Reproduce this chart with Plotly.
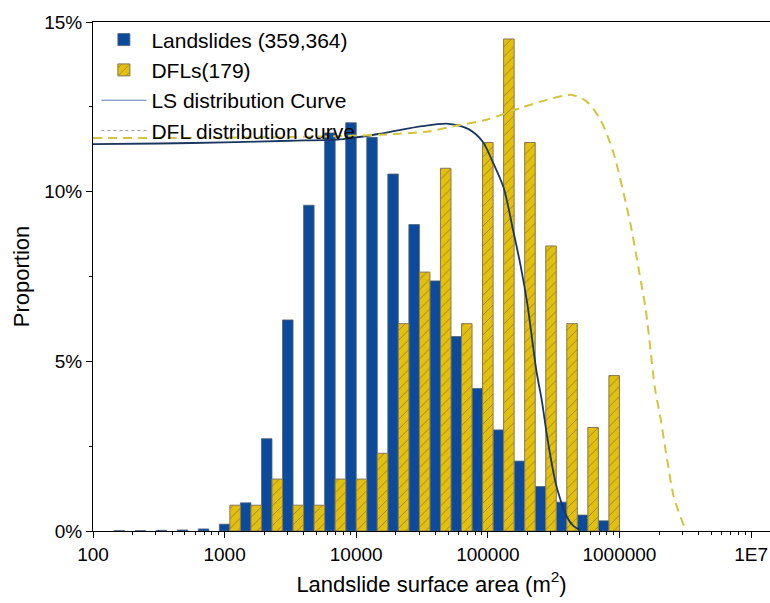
import numpy as np
import plotly.graph_objects as go

# ---- data (x in log10 of landslide surface area, m^2; y in %) ----
ls_bin_log_area = [2.20, 2.36, 2.52, 2.68, 2.84, 3.00, 3.16, 3.32, 3.48, 3.64, 3.80, 3.96,
                   4.12, 4.28, 4.44, 4.60, 4.76, 4.92, 5.08, 5.24, 5.40, 5.56, 5.72, 5.88]
ls_proportion = [0.01, 0.01, 0.02, 0.03, 0.06, 0.20, 0.83, 2.72, 6.22, 9.60, 11.73, 12.03,
                 11.60, 10.52, 9.03, 7.37, 5.73, 4.20, 2.98, 2.06, 1.31, 0.85, 0.47, 0.30]

dfl_bin_log_area = [3.08, 3.24, 3.40, 3.56, 3.72, 3.88, 4.04, 4.20, 4.36, 4.52, 4.68, 4.84,
                    5.00, 5.16, 5.32, 5.48, 5.64, 5.80, 5.96]
dfl_proportion = [0.76, 0.76, 1.53, 0.76, 0.76, 1.53, 1.53, 2.29, 6.11, 7.63, 10.69, 6.11,
                  11.45, 14.50, 11.45, 8.40, 6.11, 3.05, 4.58]

ls_curve_log_area = [2.0, 2.5, 3.0, 3.5, 3.9, 4.2, 4.5, 4.7, 4.85, 4.96, 5.03, 5.12, 5.19,
                     5.25, 5.30, 5.37, 5.41, 5.45, 5.50, 5.53, 5.60, 5.65, 5.70]
ls_curve_prop = [11.40, 11.42, 11.45, 11.50, 11.55, 11.72, 11.93, 12.00, 11.85, 11.48, 10.94,
                 10.12, 8.90, 7.80, 6.70, 4.70, 3.85, 2.80, 1.70, 1.20, 0.42, 0.15, 0.03]

dfl_curve_log_area = [2.0, 2.5, 2.9, 3.5, 3.9, 4.3, 4.56, 4.74, 4.99, 5.25, 5.50, 5.64, 5.75,
                      5.855, 5.955, 6.06, 6.09, 6.147, 6.20, 6.236, 6.27, 6.31, 6.363, 6.413, 6.49]
dfl_curve_prop = [11.58, 11.58, 11.59, 11.61, 11.64, 11.70, 11.78, 11.93, 12.12, 12.47, 12.76,
                  12.85, 12.66, 12.12, 11.14, 9.47, 8.93, 7.70, 6.52, 5.34, 4.20, 3.37, 2.09,
                  1.01, 0.15]

x_tick_vals = [2, 3, 4, 5, 6, 7]
x_tick_text = ["100", "1000", "10000", "100000", "1000000", "1E7"]
y_tick_vals = [0, 5, 10, 15]
y_tick_text = ["0%", "5%", "10%", "15%"]

FONT = "Liberation Sans, Arial, sans-serif"
BLUE = "#0C4A9B"
YELLOW = "#E3BF0E"

fig = go.Figure()

fig.add_trace(go.Bar(
    x=ls_bin_log_area, y=ls_proportion, width=0.08,
    name="Landslides (359,364)",
    marker=dict(color=BLUE, line=dict(color="#4d5f7a", width=0.8)),
))
fig.add_trace(go.Bar(
    x=dfl_bin_log_area, y=dfl_proportion, width=0.08,
    name="DFLs(179)",
    marker=dict(color=YELLOW, line=dict(color="#857853", width=1),
                pattern=dict(shape="/", fgcolor="#5a4c10", bgcolor=YELLOW,
                             size=7, solidity=0.14, fillmode="overlay")),
))

# plotted curves (not in legend)
fig.add_trace(go.Scatter(
    x=ls_curve_log_area, y=ls_curve_prop, mode="lines",
    line=dict(color="#1B365F", width=1.8, shape="spline", smoothing=0.8),
    showlegend=False, hoverinfo="skip",
))
fig.add_trace(go.Scatter(
    x=dfl_curve_log_area, y=dfl_curve_prop, mode="lines",
    line=dict(color="#D4C43C", width=2, dash="9px,6px", shape="spline", smoothing=0.8),
    showlegend=False, hoverinfo="skip",
))

# legend entries as drawn in the original legend
fig.add_trace(go.Scatter(
    x=[None], y=[None], mode="lines", name="LS distribution Curve",
    line=dict(color="#5A7DB5", width=1),
))
fig.add_trace(go.Scatter(
    x=[None], y=[None], mode="lines", name="DFL distribution curve",
    line=dict(color="#9a9a9a", width=1, dash="dot"),
))

x_minor = [float(np.log10(k * 10 ** d)) for d in range(2, 7) for k in range(2, 10)]

fig.update_layout(
    width=770, height=603,
    margin=dict(l=93, r=0, t=22, b=72),
    plot_bgcolor="white", paper_bgcolor="white",
    barmode="overlay",
    font=dict(family=FONT, color="black", size=19),
    legend=dict(
        x=0.005, y=1.005, xanchor="left", yanchor="top",
        font=dict(size=21, family=FONT, color="black"),
        bgcolor="rgba(0,0,0,0)", itemwidth=45, tracegroupgap=0,
    ),
    xaxis=dict(
        range=[2, 7.144], showgrid=False, zeroline=False,
        showline=True, linecolor="black", linewidth=1, mirror=True,
        ticks="outside", ticklen=6, tickcolor="black",
        tickvals=x_tick_vals, ticktext=x_tick_text,
        tickfont=dict(size=19),
        minor=dict(tickvals=x_minor, ticks="outside", ticklen=3, tickcolor="black"),
        title=dict(text="Landslide surface area (m<sup>2</sup>)", font=dict(size=22), standoff=12),
    ),
    yaxis=dict(
        range=[0, 15], showgrid=False, zeroline=False,
        showline=True, linecolor="black", linewidth=1, mirror=True,
        ticks="outside", ticklen=6, tickcolor="black",
        tickvals=y_tick_vals, ticktext=y_tick_text,
        tickfont=dict(size=19),
        minor=dict(tickvals=[2.5, 7.5, 12.5], ticks="outside", ticklen=3, tickcolor="black"),
        title=dict(text="Proportion", font=dict(size=22), standoff=8),
    ),
)

fig.write_html("out.html")
